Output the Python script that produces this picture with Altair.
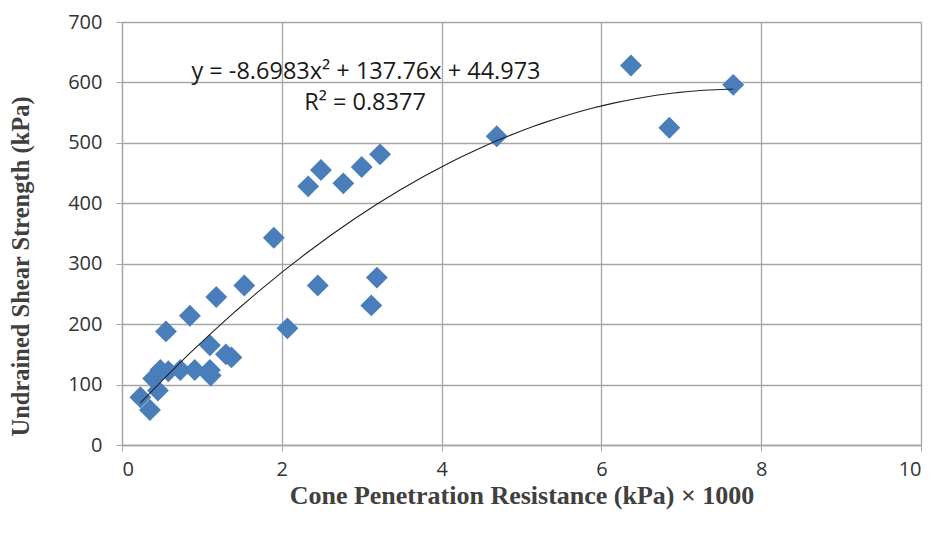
import altair as alt
import pandas as pd

cone_resistance = [0.23, 0.35, 0.39, 0.45, 0.48, 0.58, 0.73, 0.91, 1.10, 1.11, 1.10, 1.30, 1.37,
                   0.55, 0.85, 1.18, 1.53, 1.90, 2.07, 2.45, 2.33, 2.49, 2.77, 3.00, 3.23,
                   3.19, 3.12, 4.69, 6.37, 6.85, 7.65]
shear_strength = [79, 58, 110, 90, 124, 122, 124, 124, 124, 115, 165, 150, 145,
                  188, 214, 245, 264, 343, 193, 264, 428, 455, 433, 460, 481,
                  277, 231, 511, 628, 525, 596]
x_ticks = [0, 2, 4, 6, 8, 10]
y_ticks = [0, 100, 200, 300, 400, 500, 600, 700]
equation_text = "y = -8.6983x\u00b2 + 137.76x + 44.973"
r2_text = "R\u00b2 = 0.8377"

df = pd.DataFrame({"x": cone_resistance, "y": shear_strength})

GRID = "#a6a6a6"
LABEL_FONT = "Open Sans"
TITLE_FONT = "Liberation Serif"

xscale = alt.Scale(domain=[0, 10], nice=False)
yscale = alt.Scale(domain=[0, 700], nice=False)

xaxis = alt.Axis(values=x_ticks, format="d", title="Cone Penetration Resistance  (kPa) \u00d7 1000",
                 grid=True, gridColor=GRID, gridWidth=1.3, domainColor=GRID, domainWidth=1.3,
                 tickColor=GRID, tickSize=6, labelFont=LABEL_FONT, labelFontSize=20,
                 labelColor="#333333", labelPadding=8, titleFont=TITLE_FONT, titleFontSize=26,
                 titleFontWeight="bold", titleColor="#404040", titlePadding=3)
yaxis = alt.Axis(values=y_ticks, format="d", title="Undrained Shear Strength (kPa)",
                 grid=True, gridColor=GRID, gridWidth=1.3, domainColor=GRID, domainWidth=1.3,
                 tickColor=GRID, tickSize=6, labelFont=LABEL_FONT, labelFontSize=20,
                 labelColor="#333333", labelPadding=14, titleFont=TITLE_FONT, titleFontSize=24.5,
                 titleFontWeight="bold", titleColor="#404040", titlePadding=34, titleY=244)

points = alt.Chart(df).mark_point(shape="diamond", filled=True, size=480, opacity=1,
                                  color="#4a7ebb").encode(
    x=alt.X("x:Q", scale=xscale, axis=xaxis),
    y=alt.Y("y:Q", scale=yscale, axis=yaxis),
)

trend = alt.Chart(df).transform_regression(
    "x", "y", method="poly", order=2
).mark_line(color="#222222", strokeWidth=1.1).encode(
    x=alt.X("x:Q", scale=xscale),
    y=alt.Y("y:Q", scale=yscale),
)

eq = alt.Chart(pd.DataFrame({"t": [equation_text]})).mark_text(
    font=LABEL_FONT, fontSize=23.5, color="#1a1a1a", align="center", baseline="middle"
).encode(text="t:N", x=alt.value(244), y=alt.value(50))

r2 = alt.Chart(pd.DataFrame({"t": [r2_text]})).mark_text(
    font=LABEL_FONT, fontSize=23.5, color="#1a1a1a", align="center", baseline="middle"
).encode(text="t:N", x=alt.value(243), y=alt.value(81))

chart = alt.layer(points, trend, eq, r2).properties(
    width=799, height=423,
    autosize=alt.AutoSizeParams(type="none"),
    padding={"left": 114, "top": 14, "right": 12, "bottom": 80},
).configure_view(stroke=None).configure(background="white")

chart.save("out.html", embed_options={"renderer": "svg", "actions": False})
